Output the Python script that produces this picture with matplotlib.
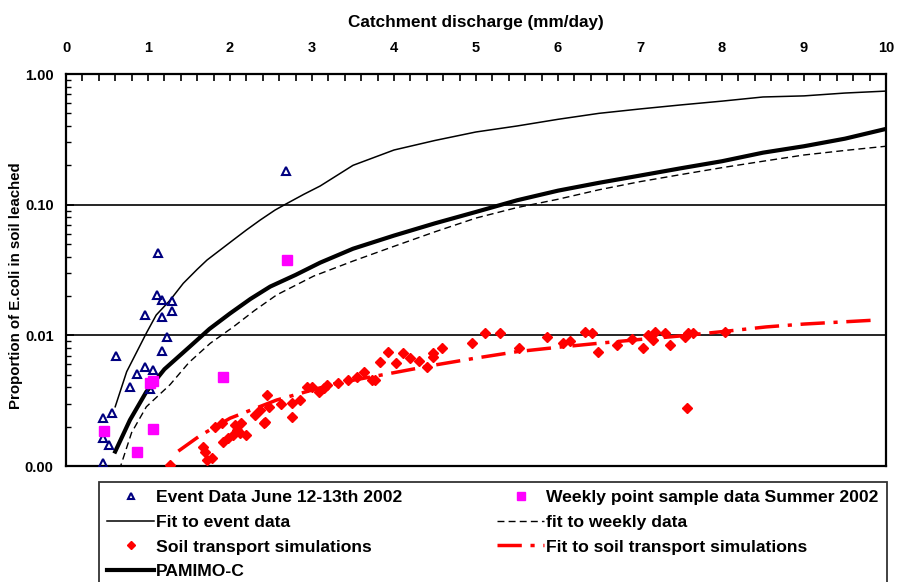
"""E.coli leaching vs catchment discharge: event / weekly data, fits, soil sims."""
import matplotlib
matplotlib.use("Agg")
import matplotlib.pyplot as plt
from matplotlib.ticker import FixedLocator, LogLocator, NullFormatter, FuncFormatter

plt.rcParams["font.family"] = ["Liberation Sans", "DejaVu Sans"]
plt.rcParams["font.weight"] = "bold"

# --- data ---
event_x = [2.68, 1.12, 1.11, 1.17, 1.29, 0.96, 1.17, 1.29, 1.23, 1.17, 0.61,
           0.96, 1.06, 0.87, 0.78, 1.02, 0.565, 0.455, 0.455, 0.525, 0.455]
event_y = [0.182, 0.043, 0.0204, 0.0186, 0.0184, 0.0143, 0.0139, 0.0154,
           0.00966, 0.00764, 0.00695, 0.00569, 0.00543, 0.00503, 0.00404,
           0.00389, 0.00253, 0.00234, 0.00165, 0.00145, 0.00105]

weekly_x = [2.70, 1.92, 1.02, 1.06, 0.46, 1.06, 0.87]
weekly_y = [0.0377, 0.00477, 0.00434, 0.00450, 0.00185, 0.00192, 0.00127]

soil_x = [1.27, 1.70, 1.72, 1.78, 1.67, 1.92, 1.98, 2.04, 2.12, 2.06, 2.14,
          2.20, 1.90, 1.82, 2.37, 2.45, 2.43, 2.47, 2.75, 2.85, 2.75, 2.94,
          3.00, 3.08, 3.18, 3.32, 3.44, 3.73, 3.83, 3.93, 4.03, 4.11, 4.20,
          4.40, 4.48, 4.58, 4.95, 5.11, 5.29, 5.52, 5.86, 6.06, 6.33, 6.41,
          6.49, 6.72, 7.04, 7.10, 7.18, 7.16, 7.30, 7.37, 7.55, 7.59, 7.65,
          8.04, 7.57, 4.48, 2.41, 3.77, 3.63, 2.08, 2.30, 2.62, 3.15, 3.55,
          4.30, 6.15, 6.90]
soil_y = [0.00102, 0.00129, 0.00111, 0.00115, 0.00141, 0.00153, 0.00163,
          0.00173, 0.00178, 0.00206, 0.00212, 0.00173, 0.00214, 0.00200,
          0.00268, 0.00349, 0.00218, 0.00284, 0.00302, 0.00320, 0.00238,
          0.00405, 0.00405, 0.00371, 0.00417, 0.00430, 0.00455, 0.00455,
          0.00628, 0.00750, 0.00611, 0.00729, 0.00667, 0.00575, 0.00729,
          0.00796, 0.00869, 0.01037, 0.01047, 0.00796, 0.00977, 0.00869,
          0.01067, 0.01037, 0.00750, 0.00844, 0.00796, 0.01007, 0.01067,
          0.00921, 0.01037, 0.00844, 0.00977, 0.01037, 0.01037, 0.01067,
          0.00277, 0.00687, 0.00212, 0.00455, 0.00527, 0.00190, 0.00245,
          0.00300, 0.00395, 0.00480, 0.00640, 0.00900, 0.00930]

event_fit_x = [0.60, 0.74, 0.98, 1.10, 1.27, 1.43, 1.60, 1.72, 1.90, 2.04,
               2.20, 2.37, 2.55, 2.68, 2.90, 3.10, 3.50, 4.0, 4.5, 5.0, 5.5,
               6.0, 6.5, 7.0, 7.5, 8.0, 8.5, 9.0, 9.5, 10.0]
event_fit_y = [0.00284, 0.00527, 0.0104, 0.0143, 0.0186, 0.025, 0.032, 0.0377,
               0.046, 0.0537, 0.064, 0.0764, 0.091, 0.101, 0.12, 0.139, 0.20,
               0.262, 0.31, 0.36, 0.40, 0.45, 0.50, 0.54, 0.58, 0.62, 0.667,
               0.68, 0.715, 0.74]

weekly_fit_x = [0.65, 0.80, 0.98, 1.27, 1.50, 1.76, 2.04, 2.30, 2.57, 3.02,
                3.5, 4.0, 4.5, 5.0, 5.5, 6.0, 6.5, 7.0, 7.5, 8.0, 8.5, 9.0,
                9.5, 10.0]
weekly_fit_y = [0.00093, 0.0018, 0.00284, 0.0042, 0.0062, 0.0087, 0.0116,
                0.0155, 0.0204, 0.0284, 0.037, 0.048, 0.062, 0.079, 0.095,
                0.11, 0.13, 0.15, 0.17, 0.192, 0.215, 0.24, 0.26, 0.28]

soil_fit_x = [1.37, 1.63, 2.0, 2.57, 3.3, 3.87, 4.48, 5.0, 5.5, 6.0, 6.5,
              7.0, 7.5, 8.14, 8.54, 9.0, 9.5, 9.89]
soil_fit_y = [0.0013, 0.0017, 0.00232, 0.0032, 0.0043, 0.0050, 0.0059,
              0.0067, 0.0075, 0.0081, 0.0087, 0.0093, 0.0099, 0.0109, 0.0116,
              0.0122, 0.0127, 0.0131]

pamimo_x = [0.60, 0.78, 0.98, 1.2, 1.51, 1.75, 2.0, 2.25, 2.49, 2.8, 3.1, 3.5,
            4.0, 4.5, 5.0, 5.5, 6.0, 6.5, 7.0, 7.5, 8.0, 8.5, 9.0, 9.5, 10.0]
pamimo_y = [0.00129, 0.00225, 0.0037, 0.0055, 0.0082, 0.0112, 0.0147, 0.019,
            0.0236, 0.029, 0.036, 0.046, 0.058, 0.072, 0.088, 0.108, 0.128,
            0.147, 0.167, 0.19, 0.215, 0.25, 0.28, 0.32, 0.38]

# --- figure ---
W, H = 897, 582
fig = plt.figure(figsize=(W / 100, H / 100), dpi=100)
ax = fig.add_axes([66 / W, 1 - 466 / H, 820 / W, 392 / H])
ax.set_yscale("log")
ax.set_xlim(0, 10)
ax.set_ylim(0.001, 1.0)

for yv in (0.1, 0.01):
    ax.axhline(yv, color="black", lw=1.2, zorder=1)

h_event, = ax.plot(event_x, event_y, ls="none", marker="^", ms=6,
                   mfc="none", mec="#000080", mew=1.5,
                   label="Event Data June 12-13th 2002", zorder=4)
h_efit, = ax.plot(event_fit_x, event_fit_y, color="black", lw=1.1,
                  label="Fit to event data", zorder=3)
h_soil, = ax.plot(soil_x, soil_y, ls="none", marker="D", ms=5,
                  color="#ff0000", mec="#ff0000",
                  label="Soil transport simulations", zorder=4)
h_pam, = ax.plot(pamimo_x, pamimo_y, color="black", lw=3.0,
                 label="PAMIMO-C", zorder=3)
h_week, = ax.plot(weekly_x, weekly_y, ls="none", marker="s", ms=7,
                  color="#ff00ff", mec="#ff00ff",
                  label="Weekly point sample data Summer 2002", zorder=5)
h_wfit, = ax.plot(weekly_fit_x, weekly_fit_y, color="black", lw=1.0,
                  ls=(0, (5, 3)), label="fit to weekly data", zorder=3)
h_sfit, = ax.plot(soil_fit_x, soil_fit_y, color="#ff0000", lw=2.5,
                  ls=(0, (7, 2.5, 1.2, 2.5)),
                  label="Fit to soil transport simulations", zorder=3)

# axes styling
for s in ax.spines.values():
    s.set_linewidth(1.6)
ax.xaxis.set_ticks_position("top")
ax.xaxis.set_major_locator(FixedLocator(range(0, 11)))
ax.xaxis.set_minor_locator(FixedLocator([i * 0.2 for i in range(51)]))
ax.tick_params(axis="x", which="both", direction="in", length=5, width=1.2,
               top=True, bottom=False, labeltop=True, labelbottom=False,
               pad=14, labelsize=10.5)
ax.yaxis.set_major_locator(LogLocator(base=10))
ax.yaxis.set_minor_locator(LogLocator(base=10, subs=range(2, 10)))
ax.yaxis.set_minor_formatter(NullFormatter())
ax.yaxis.set_major_formatter(FuncFormatter(lambda v, p: f"{v:.2f}"))
ax.tick_params(axis="y", which="major", direction="in", length=6, width=1.2,
               left=True, right=False, pad=9, labelsize=10.5)
ax.tick_params(axis="y", which="minor", direction="in", length=3.5, width=1.0,
               left=True, right=False)

fig.text(476 / W, 1 - 23 / H, "Catchment discharge (mm/day)",
         ha="center", va="center", fontsize=12.3, fontweight="bold")
fig.text(16 / W, 1 - 286 / H, "Proportion of E.coli in soil leached",
         ha="center", va="center", rotation=90, fontsize=10.8,
         fontweight="bold")

leg = fig.legend(handles=[h_event, h_efit, h_soil, h_pam, h_week, h_wfit, h_sfit],
                 loc="upper left", bbox_to_anchor=(99 / W, 1 - 482 / H),
                 ncol=2, fontsize=12.6, frameon=True, fancybox=False,
                 edgecolor="black", handlelength=2.7, handletextpad=0.12,
                 columnspacing=5.4, labelspacing=0.54, borderpad=0.45,
                 borderaxespad=0, markerscale=0.8)
leg.get_frame().set_linewidth(1.3)
for t in leg.get_texts():
    t.set_fontweight("bold")

fig.savefig("out.png", dpi=100)
